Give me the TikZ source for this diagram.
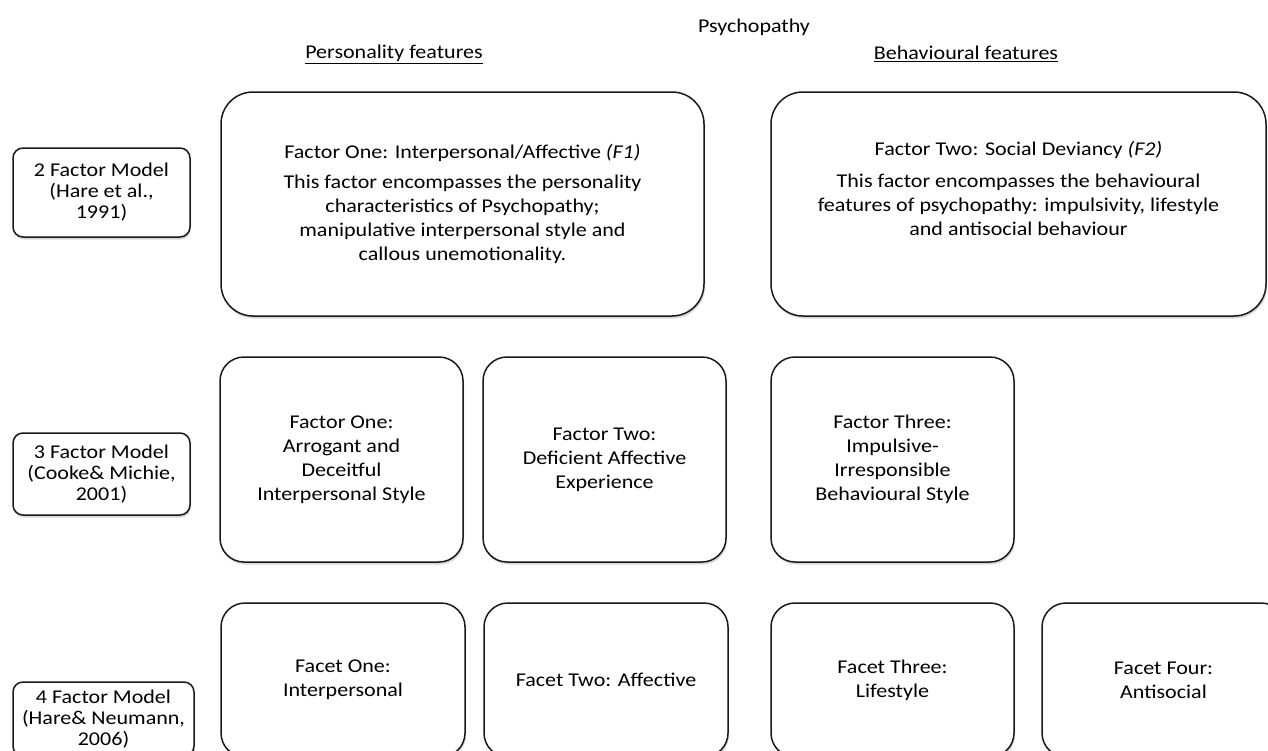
\documentclass[tikz,border=0pt]{standalone}
\usepackage{fontspec}
\setmainfont{Carlito}[FakeStretch=1.13]
\usetikzlibrary{shapes.geometric, shadows, positioning}

\begin{document}
\begin{tikzpicture}[x=1pt, y=-1pt]
    \tikzstyle{modelbox} = [rectangle, draw=black!90, line width=1.5pt, fill=white, rounded corners=10pt, minimum width=177pt, align=center, inner sep=0pt, font=\fontsize{19.5}{21}\selectfont, drop shadow={shadow xshift=1pt, shadow yshift=-2.5pt, opacity=0.3}]
    \tikzstyle{factor} = [rectangle, draw=black!90, line width=1.5pt, fill=white, rounded corners=24pt, minimum width=243pt, align=center, inner sep=0pt, font=\fontsize{19.5}{24}\selectfont, drop shadow={shadow xshift=1pt, shadow yshift=-2.5pt, opacity=0.3}]
    \tikzstyle{heading} = [inner sep=0pt, font=\fontsize{19.5}{24}\selectfont]

    \clip (0,0) rectangle (1268,750);

    % headings
    \node [heading] (title) at (754,27) {Psychopathy};
    \node [heading] (personality) at (394,54) {\underline{Personality features}};
    \node [heading] (behavioural) at (966,54) {\underline{Behavioural features}};

    % model labels
    \node [modelbox, minimum height=89pt] (twofactor) at (101.5,192.5) {2 Factor Model\\(Hare et al.,\\1991)};
    \node [modelbox, minimum height=82pt] (threefactor) at (101.5,474) {3 Factor Model\\(Cooke\& Michie,\\2001)};
    \node [modelbox, minimum height=74pt, minimum width=181pt] (fourfactor) at (103.5,719) {4 Factor Model\\(Hare\& Neumann,\\2006)};

    % 2 factor model
    \node [factor, rounded corners=32pt, minimum width=483pt, minimum height=224pt] (f1) at (462.5,204) {Factor One: Interpersonal/Affective \textit{(F1)}\\[6pt]This factor encompasses the personality\\characteristics of Psychopathy;\\manipulative interpersonal style and\\callous unemotionality.};
    \node [factor, rounded corners=32pt, minimum width=495pt, minimum height=224pt] (f2) at (1018.5,204) {};
    \node [heading, align=center] (f2text) at ([yshift=16pt]f2.center) {Factor Two: Social Deviancy \textit{(F2)}\\[8pt]This factor encompasses the behavioural\\features of psychopathy: impulsivity, lifestyle\\and antisocial behaviour};

    % 3 factor model
    \node [factor, minimum height=205pt] (arrogant) at (341.5,459.5) {Factor One:\\Arrogant and\\Deceitful\\Interpersonal Style};
    \node [factor, minimum height=205pt] (deficient) at (604.5,459.5) {Factor Two:\\Deficient Affective\\Experience};
    \node [factor, minimum height=205pt] (impulsive) at (892.5,459.5) {Factor Three:\\Impulsive-\\Irresponsible\\Behavioural Style};

    % 4 factor model
    \node [factor, minimum width=244pt, minimum height=154pt] (interpersonal) at (343,680) {Facet One:\\Interpersonal};
    \node [factor, minimum width=244pt, minimum height=154pt] (affective) at (606,680) {Facet Two: Affective};
    \node [factor, minimum height=154pt] (lifestyle) at (892.5,680) {Facet Three:\\Lifestyle};
    \node [factor, minimum height=154pt] (antisocial) at (1163.5,680) {Facet Four:\\Antisocial};
\end{tikzpicture}
\end{document}
